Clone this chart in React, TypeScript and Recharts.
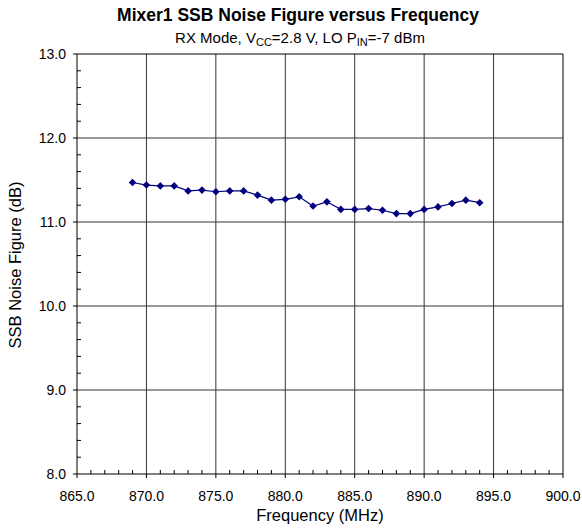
import { LineChart, Line, XAxis, YAxis, ReferenceLine } from "recharts";

// Frequency (MHz) and SSB noise figure (dB)
const freq = [869, 870, 871, 872, 873, 874, 875, 876, 877, 878, 879, 880, 881, 882, 883, 884, 885, 886, 887, 888, 889, 890, 891, 892, 893, 894];
const noiseFigure = [11.47, 11.44, 11.43, 11.43, 11.37, 11.38, 11.36, 11.37, 11.37, 11.32, 11.26, 11.27, 11.3, 11.19, 11.24, 11.15, 11.15, 11.16, 11.14, 11.1, 11.1, 11.15, 11.18, 11.22, 11.26, 11.23];

const xMajor = [865, 870, 875, 880, 885, 890, 895, 900];
const yMajor = [8, 9, 10, 11, 12, 13];
const xTicks = Array.from({ length: 36 }, (_, i) => 865 + i);
const yTicks = Array.from({ length: 26 }, (_, i) => +(8 + i * 0.2).toFixed(1));

const data = freq.map((f, i) => ({ freq: f, nf: noiseFigure[i] }));

const FONT = "Arial, 'Liberation Sans', sans-serif";
const isMajor = (v: number) => Math.abs(v - Math.round(v)) < 1e-6;

const XTick = (props: any) => {
  const { x, y, payload } = props;
  const v = payload.value;
  if (v % 5 === 0) {
    return (
      <g>
        <line x1={x} y1={y} x2={x} y2={y + 4} stroke="#000" />
        <text x={x} y={y + 27} textAnchor="middle" fontSize={14} fontFamily={FONT} fill="#000">
          {v.toFixed(1)}
        </text>
      </g>
    );
  }
  return <line x1={x} y1={y} x2={x} y2={y - 4} stroke="#000" />;
};

const YTick = (props: any) => {
  const { x, y, payload } = props;
  const v = payload.value;
  if (isMajor(v)) {
    return (
      <g>
        <line x1={x - 4} y1={y} x2={x} y2={y} stroke="#000" />
        <text x={x - 11} y={y + 5} textAnchor="end" fontSize={14} fontFamily={FONT} fill="#000">
          {v.toFixed(1)}
        </text>
      </g>
    );
  }
  return <line x1={x} y1={y} x2={x + 4} y2={y} stroke="#000" />;
};

const Diamond = (props: any) => {
  const { cx, cy } = props;
  if (cx == null || cy == null) return null;
  const r = 3.8;
  return <polygon points={`${cx},${cy - r} ${cx + r},${cy} ${cx},${cy + r} ${cx - r},${cy}`} fill="#000080" />;
};

export default function App() {
  return (
    <div style={{ position: "absolute", left: 0, top: 0, width: 582, height: 530, background: "#fff" }}>
      <LineChart width={582} height={530} data={data} margin={{ top: 54, right: 19, bottom: 0, left: 0 }}>
        <XAxis
          dataKey="freq"
          type="number"
          domain={[865, 900]}
          ticks={xTicks}
          interval={0}
          height={56}
          tickSize={0}
          tickMargin={0}
          tickLine={false}
          axisLine={{ stroke: "#000" }}
          tick={<XTick />}
        />
        <YAxis
          type="number"
          domain={[8, 13]}
          ticks={yTicks}
          interval={0}
          width={77}
          tickSize={0}
          tickMargin={0}
          tickLine={false}
          axisLine={{ stroke: "#000" }}
          tick={<YTick />}
        />
        {xMajor.slice(1).map((v) => (
          <ReferenceLine key={"x" + v} x={v} stroke={v === 900 ? "#000" : "#333"} />
        ))}
        {yMajor.slice(1).map((v) => (
          <ReferenceLine key={"y" + v} y={v} stroke={v === 13 ? "#000" : "#333"} />
        ))}
        <Line
          dataKey="nf"
          stroke="#000080"
          strokeWidth={1.2}
          dot={<Diamond />}
          activeDot={false}
          isAnimationActive={false}
        />
      </LineChart>
      <svg width={582} height={530} style={{ position: "absolute", left: 0, top: 0, pointerEvents: "none" }}>
        <text x={298} y={21} textAnchor="middle" fontSize={17.5} fontWeight="bold" fontFamily={FONT} fill="#000">
          Mixer1 SSB Noise Figure versus Frequency
        </text>
        <text x={300} y={43} textAnchor="middle" fontSize={15} fontFamily={FONT} fill="#000">
          RX Mode, V<tspan fontSize={11} dy={3}>CC</tspan>
          <tspan dy={-3}>=2.8 V, LO P</tspan>
          <tspan fontSize={11} dy={3}>IN</tspan>
          <tspan dy={-3}>=-7 dBm</tspan>
        </text>
        <text x={320} y={521} textAnchor="middle" fontSize={16.5} fontFamily={FONT} fill="#000">
          Frequency (MHz)
        </text>
        <text
          x={0}
          y={0}
          transform="translate(21 265) rotate(-90)"
          textAnchor="middle"
          fontSize={16.5}
          fontFamily={FONT}
          fill="#000"
        >
          SSB Noise Figure (dB)
        </text>
      </svg>
    </div>
  );
}
